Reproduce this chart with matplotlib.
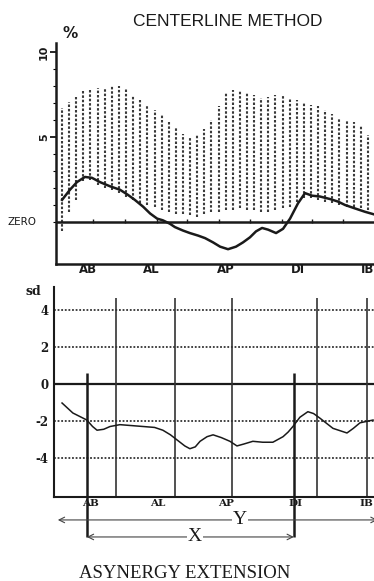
import numpy as np
import matplotlib.pyplot as plt

# position along the contour is given in % of the perimeter (0-100)
# upper panel: normal range bars and patient curve (% wall motion)
bar_start, bar_step = 1.9, 2.237
bar_top = [6.7, 7.05, 7.35, 7.75, 7.8, 7.9, 7.9, 8.05, 8.0, 7.9,
           7.5, 7.2, 6.9, 6.6, 6.3, 5.9, 5.6, 5.2, 5.0, 5.1,
           5.5, 6.0, 6.8, 7.6, 7.75, 7.75, 7.6, 7.5, 7.3, 7.35,
           7.45, 7.4, 7.3, 7.2, 7.05, 6.9, 6.8, 6.6, 6.35, 6.1,
           6.0, 5.9, 5.7, 5.1]
bar_bottom = [-0.5, 0.6, 1.3, 2.4, 2.5, 2.2, 2.0, 1.9, 1.7, 1.5,
              1.3, 1.1, 1.0, 0.9, 0.7, 0.6, 0.5, 0.5, 0.4, 0.3,
              0.5, 0.6, 0.6, 0.7, 0.7, 0.8, 0.7, 0.7, 0.6, 0.6,
              0.7, 0.8, 0.9, 1.2, 1.4, 1.4, 1.3, 1.2, 1.1, 1.0,
              0.9, 0.9, 0.8, 0.7]

motion_x = [1.9, 4.4, 6.6, 9.1, 11.3, 13.8, 17, 20.1, 22.6, 24.8,
            27.4, 29.6, 31.8, 33.6, 35.8, 37.4, 39.9, 42.1, 44.7, 46.9,
            49.4, 51.6, 54.1, 56.6, 58.8, 61, 62.9, 64.8, 66.7, 69.2,
            71.4, 73.6, 76.1, 78.3, 80.5, 83, 86.2, 88.7, 90.9, 94,
            97.2, 100]
motion = [1.3, 1.9, 2.35, 2.65, 2.6, 2.35, 2.1, 1.9, 1.6, 1.3,
          0.9, 0.5, 0.2, 0.1, -0.1, -0.3, -0.5, -0.65, -0.8, -0.95,
          -1.2, -1.45, -1.6, -1.45, -1.2, -0.9, -0.55, -0.35, -0.45, -0.65,
          -0.4, 0.2, 1.1, 1.7, 1.55, 1.5, 1.35, 1.2, 1.0, 0.8,
          0.6, 0.45]

zero_ticks = [11.6, 21.7, 31.8, 41.2, 51.3, 61, 71, 80.5, 90.3]

# lower panel: motion in standard deviations
sd_x = [1.9, 5.3, 9.7, 11.5, 12.9, 15, 17, 20.1, 27.4, 31, 33.6, 36, 38.1, 40.5,
        42.1, 43.8, 45.3, 47.5, 49.4, 52, 54.7, 56.9, 59, 61.9, 65, 68.2, 71.4,
        73, 74.5, 76.7, 79.2, 81, 83, 87.1, 91.5, 93.5, 95.6, 99.7]
sd_vals = [-1.03, -1.57, -1.95, -2.3, -2.5, -2.45, -2.3, -2.2, -2.3, -2.35, -2.5, -2.75,
           -3.03, -3.35, -3.5, -3.4, -3.1, -2.85, -2.75, -2.9, -3.1, -3.35, -3.25, -3.1,
           -3.15, -3.15, -2.85, -2.6, -2.3, -1.8, -1.5, -1.6, -1.85, -2.4, -2.65, -2.4,
           -2.1, -1.95]

segments = ['AB', 'AL', 'AP', 'DI', 'IB']
seg_pos_top = [10, 30, 53.5, 76, 98]
seg_pos_sd = [10.7, 32, 53.5, 75.2, 97.6]
seg_bounds = [19, 37.4, 55.3, 82, 97.8]
asyn_start, asyn_end = 9.7, 74.8

W, H = 374, 581
fig = plt.figure(figsize=(W / 100, H / 100), dpi=100)
ink = '#1a1a1a'

# ---- upper panel ----
ax1 = fig.add_axes([56 / W, 1 - 264 / H, (W - 56) / W, 221 / H])
ax1.set_xlim(0, 100)
ax1.set_ylim(-2.47, 10.53)
for s in ['top', 'right']:
    ax1.spines[s].set_visible(False)
for s in ['left', 'bottom']:
    ax1.spines[s].set_linewidth(1.8)
    ax1.spines[s].set_color(ink)

bar_x = bar_start + bar_step * np.arange(len(bar_top))
ax1.vlines(bar_x, bar_bottom, bar_top, colors='#3a3a3a', linewidth=1.5,
           linestyles=(0, (1.2, 0.9)))
ax1.axhline(0, color=ink, linewidth=1.8)
ax1.vlines(zero_ticks, -0.05, 0.2, colors=ink, linewidth=1.0)
ax1.plot(motion_x, motion, color=ink, linewidth=1.8)

ax1.set_xticks([])
ax1.set_yticks([5, 10])
ax1.set_yticklabels(['5', '10'], rotation=90, va='center', fontsize=8,
                    fontweight='bold', color=ink)
ax1.set_yticks(np.arange(0, 11), minor=True)
ax1.tick_params(axis='y', which='major', length=4, width=1.2, pad=1, direction='out')
ax1.tick_params(axis='y', which='minor', length=2, width=0.8, direction='out')

for name, xp in zip(segments, seg_pos_top):
    ax1.text(xp, -2.82, name, ha='center', va='center', fontsize=8.5,
             fontweight='bold', color=ink, clip_on=False)
ax1.text(-6, 0, 'ZERO', ha='right', va='center', fontsize=7.5, color=ink)
ax1.text(4.5, 11.1, '%', ha='center', va='center', fontsize=11,
         fontweight='bold', color=ink, clip_on=False)

# ---- lower panel ----
ax2 = fig.add_axes([54 / W, 1 - 497 / H, (W - 54) / W, 210 / H])
ax2.set_xlim(-2 / 3.18, 100)
ax2.set_ylim(-6.11, 5.24)
for s in ['top', 'right']:
    ax2.spines[s].set_visible(False)
for s in ['left', 'bottom']:
    ax2.spines[s].set_linewidth(1.5)
    ax2.spines[s].set_color(ink)

for lvl in [4, 2, -2, -4]:
    ax2.axhline(lvl, color='#333333', linewidth=1.3, linestyle=(0, (1, 1)))
ax2.axhline(0, color=ink, linewidth=1.6)
ax2.vlines(seg_bounds, -6.11, 4.65, colors='#333333', linewidth=1.2)
ax2.vlines([asyn_start, asyn_end], -8.27, 0.6, colors=ink, linewidth=1.8,
           clip_on=False)
ax2.plot(sd_x, sd_vals, color=ink, linewidth=1.1)

ax2.set_xticks([])
ax2.set_yticks([4, 2, 0, -2, -4])
ax2.set_yticklabels(['4', '2', '0', '-2', '-4'], fontsize=8.5,
                    fontweight='bold', family='DejaVu Serif', color=ink)
ax2.tick_params(axis='y', length=0, pad=4)
ax2.text(-7, 5.0, 'sd', ha='center', va='center', fontsize=9,
         fontweight='bold', family='DejaVu Serif', color=ink, clip_on=False)

for name, xp in zip(segments, seg_pos_sd):
    ax2.text(xp, -6.45, name, ha='center', va='center', fontsize=7.5,
             fontweight='bold', family='DejaVu Serif', color=ink, clip_on=False)

ax2.annotate('', xy=(-0.3, -7.35), xytext=(102, -7.35),
             arrowprops=dict(arrowstyle='<->', lw=0.8, color='#444444'),
             annotation_clip=False)
ax2.annotate('', xy=(asyn_start, -8.27), xytext=(asyn_end, -8.27),
             arrowprops=dict(arrowstyle='<->', lw=0.8, color='#444444',
                             shrinkA=0, shrinkB=0),
             annotation_clip=False)
ax2.text(57.9, -7.35, 'Y', ha='center', va='center', fontsize=14,
         family='Liberation Serif', color=ink, clip_on=False,
         bbox=dict(facecolor='white', edgecolor='none', pad=0.5))
ax2.text(43.7, -8.27, 'X', ha='center', va='center', fontsize=14,
         family='Liberation Serif', color=ink, clip_on=False,
         bbox=dict(facecolor='white', edgecolor='none', pad=0.5))

fig.text(228 / W, 1 - 22 / H, 'CENTERLINE METHOD', ha='center', va='center',
         fontsize=12.5, family='Liberation Sans', color=ink)
fig.text(185 / W, 1 - 573 / H, 'ASYNERGY EXTENSION', ha='center', va='center',
         fontsize=13.5, family='Liberation Serif', color=ink)

fig.savefig('out.png', dpi=100)
